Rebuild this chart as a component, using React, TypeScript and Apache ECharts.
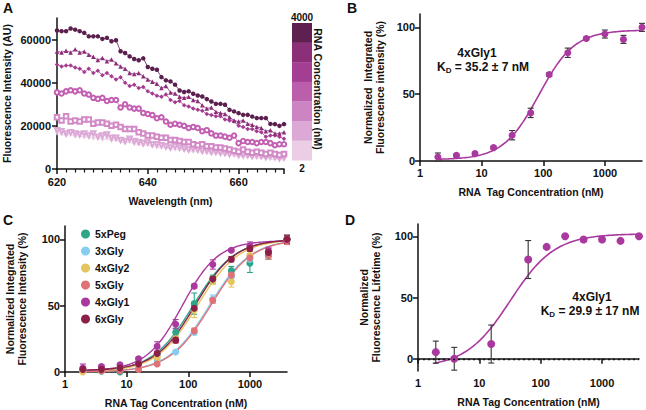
import { useEffect, useRef } from "react";
import * as echarts from "echarts";

const FONT = "'Liberation Sans', Arial, Helvetica, sans-serif";

// ---------- Panel A: emission spectra (AU), 620–670 nm, 1 nm steps ----------
const WAVELENGTHS = Array.from({ length: 51 }, (_, i) => 620 + i);

const SPEC_1 = [
  64200, 63900, 63900, 65100, 64600, 63900, 63100, 61500, 61500, 61500,
  60300, 60800, 59200, 59700, 54600, 53800, 52200, 51000, 50400, 51300,
  47300, 46500, 46000, 42600, 41100, 40600, 39100, 36400, 35700, 36000,
  34900, 34100, 33600, 32400, 31300, 30200, 30200, 29800, 27400, 26700,
  25900, 25100, 25100, 24300, 23600, 23600, 23600, 20900, 20800, 20000, 20800,
];
const SPEC_2 = [
  54500, 54000, 54800, 54000, 55500, 54000, 54500, 53000, 52000, 50500,
  51500, 50000, 50800, 49000, 47500, 46500, 44500, 44000, 44500, 43000,
  41500, 40500, 39500, 37500, 38500, 35500, 35000, 33500, 33000, 33500,
  32000, 31500, 29500, 28000, 28500, 26500, 26000, 25500, 24000, 22500,
  22000, 22500, 21000, 20500, 19500, 19000, 17500, 18000, 16500, 16500, 17000,
];
const SPEC_3 = [
  48500, 47500, 48000, 48000, 47000, 46500, 45000, 46500, 44500, 45500,
  43500, 44500, 43000, 41500, 42500, 40000, 38500, 39000, 37500, 38000,
  36000, 35000, 34000, 33500, 34500, 32000, 31000, 31500, 29500, 29000,
  28000, 27500, 27000, 25500, 25000, 24500, 24500, 23000, 22500, 22000,
  20000, 19500, 18500, 18500, 17500, 17000, 15000, 15500, 15500, 15000, 14000,
];
const SPEC_4 = [
  35500, 35000, 36000, 36500, 36000, 36500, 35000, 34500, 33000, 32500,
  33000, 31500, 32000, 32000, 28500, 30000, 28500, 28000, 28000, 26000,
  25500, 25000, 23500, 24000, 22000, 20500, 21000, 20500, 20000, 19000,
  19500, 19000, 17500, 18000, 16500, 15500, 15500, 15000, 14500, 15500,
  12000, 13000, 12500, 12500, 12000, 12500, 12500, 12000, 11000, 11500, 11500,
];
const SPEC_5 = [
  24000, 22500, 24500, 22000, 22500, 22000, 23000, 23000, 21000, 21500,
  21500, 21000, 20000, 20500, 19500, 18500, 18500, 18500, 17000, 16500,
  15500, 15500, 15000, 14500, 14500, 13500, 13500, 13000, 12500, 12500,
  11500, 11000, 11500, 10500, 10500, 10000, 10000, 9500, 9000, 8500,
  8000, 9000, 8000, 7500, 8000, 7500, 7000, 7500, 7000, 6500, 7000,
];
const SPEC_6 = [
  18000, 17500, 16500, 17000, 16500, 16000, 16500, 15500, 16500, 15000,
  15500, 16000, 14500, 14500, 13500, 13000, 14000, 13000, 12500, 12000,
  12500, 11500, 11500, 11000, 10500, 10000, 10500, 10000, 9500, 9000,
  9500, 9000, 8500, 8500, 8000, 8000, 7500, 7500, 7000, 7500,
  6500, 6500, 6500, 6000, 6500, 6000, 5500, 6000, 5500, 5000, 5500,
];
const SPEC_7 = [
  16500, 16000, 15500, 16000, 15000, 15500, 14500, 15000, 14000, 14500,
  13500, 14000, 13000, 13500, 12500, 12000, 12500, 11500, 11500, 11000,
  11000, 10500, 10000, 10000, 9500, 9500, 9000, 9000, 8500, 8500,
  8000, 8000, 7500, 7500, 7000, 7000, 7000, 6500, 6500, 6000,
  6000, 5500, 5500, 5500, 5000, 5000, 5000, 4500, 4500, 4500, 4000,
];
const SPECTRA = [SPEC_1, SPEC_2, SPEC_3, SPEC_4, SPEC_5, SPEC_6, SPEC_7];

// colour scale legend (RNA concentration, nM)
const SCALE_TOP = "4000";
const SCALE_BOTTOM = "2";
const SCALE_COLORS = ["#5e2050", "#8a2f78", "#a43e92", "#bb5fac", "#cd84c2", "#dca8d5", "#ebcde6"];

// per-spectrum drawing styles
const SPEC_STYLES = [
  { color: "#5b1f4e", symbol: "circle", rotate: 0 },
  { color: "#8c2d7a", symbol: "triangle", rotate: 0 },
  { color: "#a53b91", symbol: "diamond", rotate: 0 },
  { color: "#c25fb2", symbol: "emptyCircle", rotate: 0 },
  { color: "#d38bc8", symbol: "emptyRect", rotate: 0 },
  { color: "#dca8d5", symbol: "emptyTriangle", rotate: 180 },
  { color: "#ebcde6", symbol: "triangle", rotate: 180 },
];

// ---------- Panels B–D: titrations ----------
const CONC = [1.95, 3.9, 7.8, 15.6, 31.25, 62.5, 125, 250, 500, 1000, 2000, 4000];

const GLY4_1 = [3, 4.2, 5.5, 10, 19.3, 36, 64.7, 81, 91.7, 95, 91, 100];
const GLY4_1_SD = [3, 1, 1, 1, 3.5, 3.5, 1.5, 3.5, 1, 3, 3, 3];

const PEG5 = [1, 0.5, 0, 6, 13, 30, 51.5, 70, 76.5, 82, 88, 100];
const PEG5_SD = [1, 1, 1, 1, 2, 3, 8, 3, 3, 7, 3, 3];
const GLY3 = [1, 1, 2, 4, 9, 15, 30, 55, 72, 85, 89, 100];
const GLY3_SD = [1, 1, 1, 1, 1, 1, 2, 3, 3, 4, 3, 3];
const GLY4_2 = [0, 1, 3, 5, 11, 25, 47, 69, 68, 88, 89, 100];
const GLY4_2_SD = [1, 1, 1, 1, 1, 2, 6, 3, 4, 3, 3, 3];
const GLY5 = [2, 1, 1, 2, 6, 24, 31, 54, 73, 86, 88, 99];
const GLY5_SD = [1, 1, 1, 1, 1, 2, 2, 2, 2, 3, 3, 3];
const GLY6 = [2, 2, 3, 6, 14, 24, 48, 70, 85, 93, 90, 100];
const GLY6_SD = [1, 1, 1, 1, 1, 2, 2, 2, 2, 2, 3, 3];

const LIFE_CONC = [1.95, 3.9, 15.6, 62.5, 125, 250, 500, 1000, 2000, 4000];
const LIFETIME = [5.4, 0, 12, 81, 91.3, 100, 97.3, 97.3, 96.2, 100];
const LIFETIME_SD = [9, 9.3, 15.5, 15.5, 0, 0, 0, 0, 0, 0];

// fitted binding-curve parameters (bottom, top, EC50 in nM, Hill slope)
const FIT_B = { bottom: 1, top: 98, ec50: 85, hill: 1.5 };
const FIT_D = { bottom: -7, top: 102, ec50: 32, hill: 1.2 };

const C_SERIES = [
  { name: "5xPeg", color: "#2ca58b", mean: PEG5, sd: PEG5_SD, fit: { bottom: 0, top: 100, ec50: 120, hill: 1.3 } },
  { name: "3xGly", color: "#86cdf0", mean: GLY3, sd: GLY3_SD, fit: { bottom: 0, top: 100, ec50: 220, hill: 1.3 } },
  { name: "4xGly2", color: "#e6c45e", mean: GLY4_2, sd: GLY4_2_SD, fit: { bottom: 0, top: 100, ec50: 140, hill: 1.3 } },
  { name: "5xGly", color: "#e07275", mean: GLY5, sd: GLY5_SD, fit: { bottom: 0, top: 100, ec50: 230, hill: 1.3 } },
  { name: "4xGly1", color: "#a9389f", mean: GLY4_1, sd: GLY4_1_SD, fit: { bottom: 1, top: 99, ec50: 80, hill: 1.5 } },
  { name: "6xGly", color: "#8c1f47", mean: GLY6, sd: GLY6_SD, fit: { bottom: 1, top: 100, ec50: 130, hill: 1.35 } },
];

type Fit = { bottom: number; top: number; ec50: number; hill: number };

// sample a four-parameter logistic fit on a log grid
function fitCurve(p: Fit, from: number, to: number, n = 120): number[][] {
  const out: number[][] = [];
  const a = Math.log10(from);
  const b = Math.log10(to);
  for (let i = 0; i <= n; i++) {
    const x = Math.pow(10, a + ((b - a) * i) / n);
    const r = Math.pow(x / p.ec50, p.hill);
    out.push([x, p.bottom + (p.top - p.bottom) * (r / (1 + r))]);
  }
  return out;
}

function errorData(xs: number[], mean: number[], sd: number[]) {
  return xs.map((x, i) => [x, mean[i] - sd[i], mean[i] + sd[i]]);
}

function errorSeries(data: number[][], color: string, axis: number, z = 3) {
  return {
    type: "custom",
    xAxisIndex: axis,
    yAxisIndex: axis,
    z,
    silent: true,
    data,
    encode: { x: 0, y: [1, 2] },
    renderItem: (params: any, api: any) => {
      const x = api.value(0);
      const lo = api.coord([x, api.value(1)]);
      const hi = api.coord([x, api.value(2)]);
      const hw = 3;
      const style = { stroke: color, lineWidth: 1.1 };
      return {
        type: "group",
        children: [
          { type: "line", shape: { x1: lo[0], y1: lo[1], x2: hi[0], y2: hi[1] }, style },
          { type: "line", shape: { x1: lo[0] - hw, y1: lo[1], x2: lo[0] + hw, y2: lo[1] }, style },
          { type: "line", shape: { x1: hi[0] - hw, y1: hi[1], x2: hi[0] + hw, y2: hi[1] }, style },
        ],
      };
    },
  };
}

const AXIS_LINE = { lineStyle: { color: "#111", width: 1.5 } };
const AXIS_TICK = { length: 5, lineStyle: { color: "#111", width: 1.5 } };
const TICK_LABEL = { color: "#111", fontWeight: "bold", fontSize: 11, fontFamily: FONT };
const NAME_STYLE = { color: "#111", fontWeight: "bold", fontSize: 10.5, fontFamily: FONT, lineHeight: 12 };

function logX(grid: number, name: string) {
  return {
    type: "log",
    logBase: 10,
    gridIndex: grid,
    min: 1,
    max: 4000,
    name,
    nameLocation: "middle",
    nameGap: 25,
    nameTextStyle: NAME_STYLE,
    axisLine: AXIS_LINE,
    axisTick: AXIS_TICK,
    axisLabel: { ...TICK_LABEL, margin: 6, showMaxLabel: false, formatter: (v: number) => String(Math.round(v)) },
    splitLine: { show: false },
    minorTick: { show: false },
  };
}

const PCT_TICKS = [0, 50, 100];

function pctY(grid: number, name: string, gap: number, min = 0) {
  return {
    type: "value",
    gridIndex: grid,
    min,
    max: 110,
    name,
    nameLocation: "middle",
    nameGap: gap,
    nameTextStyle: NAME_STYLE,
    axisLine: AXIS_LINE,
    axisTick: { ...AXIS_TICK, customValues: PCT_TICKS },
    axisLabel: { ...TICK_LABEL, margin: 5, customValues: PCT_TICKS, formatter: (v: number) => String(v) },
    splitLine: { show: false },
  };
}

function buildOption() {
  const series: any[] = [];

  // A: spectra
  SPECTRA.forEach((vals, i) => {
    const st = SPEC_STYLES[i];
    series.push({
      type: "line",
      xAxisIndex: 0,
      yAxisIndex: 0,
      z: 2 + (SPECTRA.length - i) * 0.01,
      data: WAVELENGTHS.map((w, j) => [w, vals[j]]),
      symbol: st.symbol,
      symbolRotate: st.rotate,
      symbolSize: 4.5,
      showSymbol: true,
      lineStyle: { color: st.color, width: 0.8 },
      itemStyle: { color: st.color, borderWidth: 1.2 },
    });
  });

  // B: 4xGly1 titration
  series.push({
    type: "line",
    xAxisIndex: 1,
    yAxisIndex: 1,
    z: 2,
    data: fitCurve(FIT_B, 1.95, 4000),
    showSymbol: false,
    lineStyle: { color: "#a9389f", width: 1.6 },
  });
  series.push(errorSeries(errorData(CONC, GLY4_1, GLY4_1_SD), "#333", 1, 3));
  series.push({
    type: "scatter",
    xAxisIndex: 1,
    yAxisIndex: 1,
    z: 4,
    data: CONC.map((c, i) => [c, GLY4_1[i]]),
    symbol: "circle",
    symbolSize: 7,
    itemStyle: { color: "#a9389f", opacity: 1 },
  });

  // C: all constructs
  C_SERIES.forEach((s) => {
    series.push({
      type: "line",
      name: s.name + " fit",
      xAxisIndex: 2,
      yAxisIndex: 2,
      z: 2,
      data: fitCurve(s.fit, 1.95, 4000),
      showSymbol: false,
      lineStyle: { color: s.color, width: 1.4 },
    });
    series.push(errorSeries(errorData(CONC, s.mean, s.sd), s.color, 2, 3));
    series.push({
      type: "scatter",
      name: s.name,
      xAxisIndex: 2,
      yAxisIndex: 2,
      z: 4,
      data: CONC.map((c, i) => [c, s.mean[i]]),
      symbol: "circle",
      symbolSize: 7,
      itemStyle: { color: s.color, opacity: 1 },
    });
  });

  // D: lifetime titration
  series.push({
    type: "line",
    xAxisIndex: 3,
    yAxisIndex: 3,
    z: 2,
    data: fitCurve(FIT_D, 1.8, 4000),
    showSymbol: false,
    lineStyle: { color: "#a9389f", width: 1.6 },
    markLine: {
      silent: true,
      symbol: "none",
      label: { show: false },
      lineStyle: { color: "#111", type: [2, 3], width: 1.3 },
      data: [{ yAxis: 0 }],
    },
  });
  series.push(errorSeries(errorData(LIFE_CONC, LIFETIME, LIFETIME_SD).filter((d) => d[2] - d[1] > 0), "#333", 3, 3));
  series.push({
    type: "scatter",
    xAxisIndex: 3,
    yAxisIndex: 3,
    z: 4,
    data: LIFE_CONC.map((c, i) => [c, LIFETIME[i]]),
    symbol: "circle",
    symbolSize: 8,
    itemStyle: { color: "#a9389f", opacity: 1 },
  });

  const letter = (t: string, x: number, y: number) => ({
    type: "text",
    x,
    y,
    style: { text: t, fontSize: 14, fontWeight: "bold", fontFamily: FONT, fill: "#111", align: "center", verticalAlign: "middle" },
  });
  const boldText = (t: string, x: number, y: number, size = 12) => ({
    type: "text",
    x,
    y,
    style: { text: t, fontSize: size, fontWeight: "bold", fontFamily: FONT, fill: "#111", align: "center", verticalAlign: "middle" },
  });
  const kdText = (value: string, x: number, y: number) => ({
    type: "text",
    x,
    y,
    style: {
      text: "{m|K}{s|D}{m| = " + value + "}",
      align: "center",
      verticalAlign: "middle",
      fill: "#111",
      rich: {
        m: { fontSize: 12, fontWeight: "bold", fontFamily: FONT, fill: "#111", lineHeight: 14 },
        s: { fontSize: 8, fontWeight: "bold", fontFamily: FONT, fill: "#111", lineHeight: 14, padding: [7, 0, 0, 0] },
      },
    },
  });

  const scaleTop = 23;
  const blockH = 19.6;
  const colorBlocks = SCALE_COLORS.map((c, i) => ({
    type: "rect",
    shape: { x: 292, y: scaleTop + i * blockH, width: 20, height: blockH + 0.3 },
    style: { fill: c },
  }));

  return {
    animation: false,
    backgroundColor: "#fff",
    grid: [
      { left: 56, top: 18, width: 228, height: 151 },
      { left: 420, top: 14, width: 222, height: 147 },
      { left: 65, top: 226, width: 222, height: 146 },
      { left: 418, top: 224, width: 221, height: 147 },
    ],
    xAxis: [
      {
        type: "value",
        gridIndex: 0,
        min: 620,
        max: 670,
        interval: 20,
        name: "Wavelength (nm)",
        nameLocation: "middle",
        nameGap: 26,
        nameTextStyle: NAME_STYLE,
        axisLine: AXIS_LINE,
        axisTick: AXIS_TICK,
        minorTick: { show: true, splitNumber: 10, length: 3.5, lineStyle: { color: "#111", width: 1.2 } },
        axisLabel: { ...TICK_LABEL, margin: 7, showMaxLabel: false },
        splitLine: { show: false },
      },
      logX(1, "RNA  Tag Concentration (nM)"),
      logX(2, "RNA Tag Concentration (nM)"),
      logX(3, "RNA Tag Concentration (nM)"),
    ],
    yAxis: [
      {
        type: "value",
        gridIndex: 0,
        min: 0,
        max: 70000,
        interval: 20000,
        name: "Fluorescence Intensity (AU)",
        nameLocation: "middle",
        nameGap: 44,
        nameTextStyle: NAME_STYLE,
        axisLine: AXIS_LINE,
        axisTick: AXIS_TICK,
        axisLabel: { ...TICK_LABEL, margin: 6, showMaxLabel: false, formatter: (v: number) => String(v) },
        splitLine: { show: false },
      },
      pctY(1, "Normalized  Integrated\nFluorescence intensity (%)", 34),
      pctY(2, "Normalized Integrated\nFluorescence Intensity (%)", 37),
      pctY(3, "Normalized\nFluorescence Lifetime (%)", 36, -10),
    ],
    legend: {
      data: C_SERIES.map((s) => ({ name: s.name, icon: "circle" })),
      orient: "vertical",
      left: 76,
      top: 223,
      itemWidth: 9,
      itemHeight: 9,
      itemGap: 5,
      selectedMode: false,
      textStyle: { color: "#111", fontWeight: "bold", fontSize: 10.5, fontFamily: FONT, lineHeight: 12 },
    },
    graphic: [
      letter("A", 8, 8),
      letter("B", 352, 8),
      letter("C", 8, 220),
      letter("D", 350, 220),
      boldText("4xGly1", 477, 53),
      kdText("35.2 ± 7 nM", 483, 67),
      boldText("4xGly1", 592, 297),
      kdText("29.9 ± 17 nM", 590, 311),
      ...colorBlocks,
      boldText(SCALE_TOP, 302, 17, 10),
      boldText(SCALE_BOTTOM, 302, 168, 10),
      {
        type: "text",
        x: 318,
        y: 89,
        rotation: -Math.PI / 2,
        style: {
          text: "RNA Concentration (nM)",
          fontSize: 10.5,
          fontWeight: "bold",
          fontFamily: FONT,
          fill: "#111",
          align: "center",
          verticalAlign: "middle",
        },
      },
    ],
    series,
  };
}

export default function App() {
  const ref = useRef<HTMLDivElement>(null);
  useEffect(() => {
    document.body.style.margin = "0";
    if (!ref.current) return;
    const chart = echarts.init(ref.current, undefined, { renderer: "svg" });
    chart.setOption(buildOption() as any);
    return () => chart.dispose();
  }, []);
  return <div ref={ref} style={{ width: 646, height: 410 }} />;
}
